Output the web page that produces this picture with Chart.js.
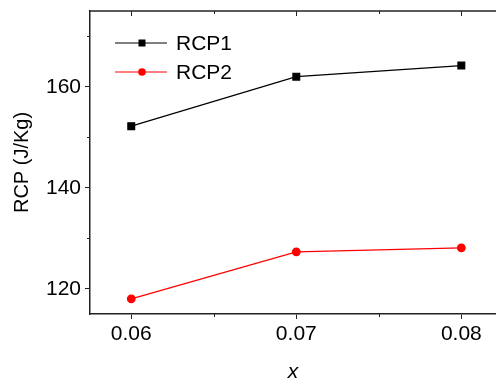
<!DOCTYPE html>
<html>
<head>
<meta charset="utf-8">
<script src="https://cdn.jsdelivr.net/npm/chart.js@4/dist/chart.umd.min.js"></script>
<style>
  html, body { margin: 0; padding: 0; background: #fff; }
  #wrap { width: 496px; height: 381px; position: relative; }
</style>
</head>
<body>
<div id="wrap"><canvas id="rcpChart"></canvas></div>
<script>
// dados
const xValues = [0.06, 0.07, 0.08];
const rcp1 = [152.2, 162.0, 164.2];
const rcp2 = [118.0, 127.3, 128.1];
const xTicks = [0.06, 0.07, 0.08];
const xMinor = [0.065, 0.075];
const yTicks = [120, 140, 160];
const yMinor = [130, 150, 170];
const seriesNames = ['RCP1', 'RCP2'];

const FONT = 'Arial, "Liberation Sans", sans-serif';

function toPoints(ys) {
    return xValues.map((x, i) => ({ x: x, y: ys[i] }));
}

// moldura de cima, ticks menores e legenda
const framePlugin = {
    id: 'frame',
    afterDraw(chart) {
        const ctx = chart.ctx;
        const area = chart.chartArea;
        const xs = chart.scales.x;
        const ys = chart.scales.y;
        ctx.save();
        ctx.strokeStyle = '#222';
        ctx.lineWidth = 1.5;
        ctx.beginPath();
        ctx.moveTo(area.left, area.top);
        ctx.lineTo(area.right, area.top);
        ctx.stroke();

        ctx.lineWidth = 1;
        ctx.beginPath();
        xTicks.forEach(v => {
            const px = Math.round(xs.getPixelForValue(v)) + 0.5;
            ctx.moveTo(px, area.top);
            ctx.lineTo(px, area.top + 5);
        });
        xMinor.forEach(v => {
            const px = Math.round(xs.getPixelForValue(v)) + 0.5;
            ctx.moveTo(px, area.top);
            ctx.lineTo(px, area.top + 3);
            ctx.moveTo(px, area.bottom);
            ctx.lineTo(px, area.bottom + 3);
        });
        yMinor.forEach(v => {
            const py = Math.round(ys.getPixelForValue(v)) + 0.5;
            ctx.moveTo(area.left, py);
            ctx.lineTo(area.left - 3, py);
        });
        ctx.stroke();

        // legenda
        const rows = [43, 72];
        chart.data.datasets.forEach((ds, i) => {
            const y = rows[i];
            ctx.strokeStyle = ds.borderColor;
            ctx.lineWidth = 1;
            ctx.beginPath();
            ctx.moveTo(115, y);
            ctx.lineTo(167, y);
            ctx.stroke();
            ctx.fillStyle = ds.pointBackgroundColor;
            if (ds.pointStyle === 'rect') {
                ctx.fillRect(138.5, y - 3.5, 7, 7);
            } else {
                ctx.beginPath();
                ctx.arc(142, y, 3.8, 0, Math.PI * 2);
                ctx.fill();
            }
            ctx.fillStyle = '#000';
            ctx.font = '21px ' + FONT;
            ctx.textBaseline = 'middle';
            ctx.textAlign = 'left';
            ctx.fillText(ds.label, 176, y + 1);
        });
        ctx.restore();
    }
};

function initializeChart() {
    const canvas = document.getElementById('rcpChart');
    if (!canvas) return;

    new Chart(canvas.getContext('2d'), {
        type: 'line',
        data: {
            datasets: [{
                label: seriesNames[0],
                data: toPoints(rcp1),
                borderColor: '#000',
                backgroundColor: '#000',
                pointBackgroundColor: '#000',
                pointBorderColor: '#000',
                pointStyle: 'rect',
                pointRadius: 4.8,
                borderWidth: 1.2,
                clip: false
            }, {
                label: seriesNames[1],
                data: toPoints(rcp2),
                borderColor: '#ff0000',
                backgroundColor: '#ff0000',
                pointBackgroundColor: '#ff0000',
                pointBorderColor: '#ff0000',
                pointStyle: 'circle',
                pointRadius: 3.8,
                borderWidth: 1.2,
                clip: false
            }]
        },
        options: {
            responsive: true,
            maintainAspectRatio: false,
            animation: false,
            layout: { autoPadding: false, padding: { top: 11, right: 0, left: 0, bottom: 0 } },
            plugins: {
                legend: { display: false },
                tooltip: { enabled: false }
            },
            scales: {
                x: {
                    type: 'linear',
                    min: 0.0575,
                    max: 0.0821,
                    afterBuildTicks: s => { s.ticks = xTicks.map(v => ({ value: v })); },
                    afterFit: s => { s.height = 67; s.paddingLeft = 0; s.paddingRight = 0; },
                    ticks: {
                        color: '#000',
                        font: { family: FONT, size: 21 },
                        padding: 3,
                        maxRotation: 0,
                        callback: v => v.toFixed(2)
                    },
                    grid: { drawOnChartArea: false, tickLength: 5, color: '#222', lineWidth: 1 },
                    border: { display: true, color: '#222', width: 1.5 },
                    title: {
                        display: true,
                        text: 'x',
                        color: '#000',
                        font: { family: FONT, size: 21, style: 'italic' },
                        padding: { top: 0, bottom: -4 }
                    }
                },
                y: {
                    min: 115,
                    max: 175,
                    afterBuildTicks: s => { s.ticks = yTicks.map(v => ({ value: v })); },
                    afterFit: s => { s.width = 90; s.paddingTop = 0; s.paddingBottom = 0; },
                    ticks: {
                        color: '#000',
                        font: { family: FONT, size: 21 },
                        padding: 4
                    },
                    grid: { drawOnChartArea: false, tickLength: 5, color: '#222', lineWidth: 1 },
                    border: { display: true, color: '#222', width: 1.5 },
                    title: {
                        display: true,
                        text: 'RCP (J/Kg)',
                        color: '#000',
                        font: { family: FONT, size: 20 },
                        padding: { top: 10, bottom: 0 }
                    }
                }
            }
        },
        plugins: [framePlugin]
    });
}

document.addEventListener('DOMContentLoaded', initializeChart);
</script>
</body>
</html>
